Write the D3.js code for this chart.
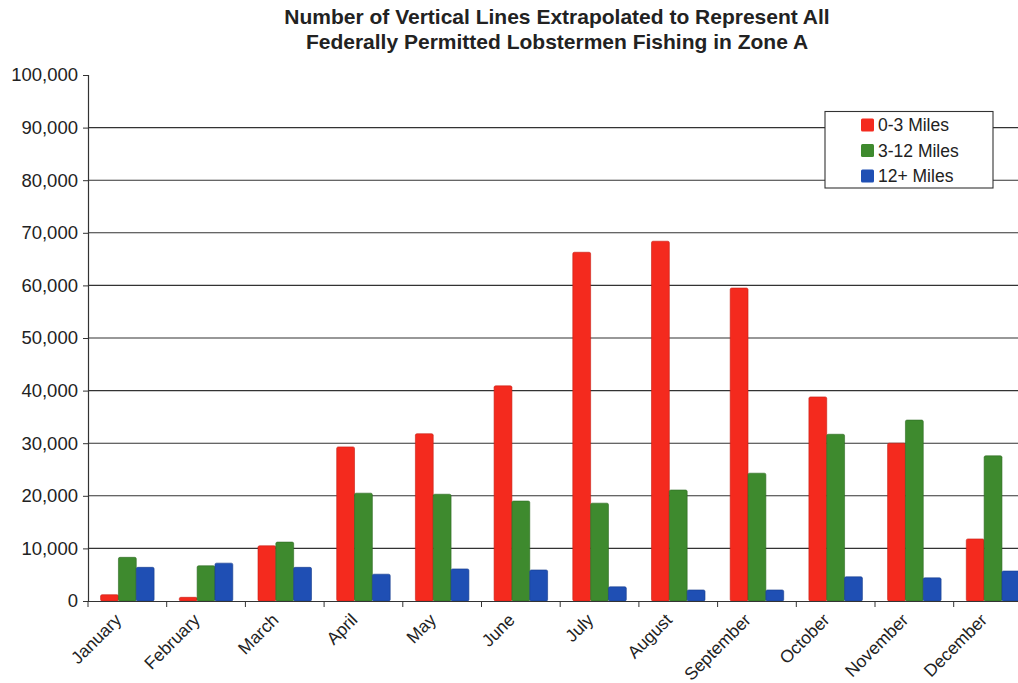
<!DOCTYPE html>
<html><head><meta charset="utf-8">
<script src="https://cdn.jsdelivr.net/npm/d3@7"></script>
<style>body{margin:0;background:#fff}svg{display:block}text{font-family:"Liberation Sans",Arial,sans-serif;fill:#222}</style>
</head><body>
<svg id="c" width="1018" height="683"></svg>
<script>
const months = ["January","February","March","April","May","June","July","August","September","October","November","December"];
const seriesNames = ["0-3 Miles","3-12 Miles","12+ Miles"];
const miles0to3 = [1200,700,10500,29300,31800,40900,66300,68400,59500,38800,30000,11800];
const miles3to12 = [8300,6700,11200,20500,20300,19000,18600,21100,24300,31700,34400,27600];
const miles12plus = [6400,7200,6400,5100,6100,5900,2700,2100,2100,4600,4400,5700];
const yTicks = [0,10000,20000,30000,40000,50000,60000,70000,80000,90000,100000];
const colors = ["#f42a1e","#3e8a2e","#1f4fb4"];
const strokes = ["#c81e14","#2d6a21","#163c8c"];
const seriesValues = [miles0to3, miles3to12, miles12plus];

(function(){
const svg = d3.select("#c");
const mLeft = 88, mTop = 75, mBottom = 601, catW = 78.7;
const x = d3.scaleBand().domain(months).range([mLeft, mLeft + catW*months.length]);
const x1 = d3.scaleBand().domain(seriesNames).range([x.bandwidth()*0.16, x.bandwidth()*0.84]);
const y = d3.scaleLinear().domain([0,100000]).range([mBottom, mTop]);

svg.append("text").attr("x",557).attr("y",24).attr("text-anchor","middle")
  .style("font-size","21px").style("font-weight","bold").text("Number of Vertical Lines Extrapolated to Represent All");
svg.append("text").attr("x",557).attr("y",49).attr("text-anchor","middle")
  .style("font-size","21px").style("font-weight","bold").text("Federally Permitted Lobstermen Fishing in Zone A");

svg.append("g").selectAll("line").data(yTicks.filter(d=>d>0 && d<100000)).join("line")
  .attr("x1",mLeft).attr("x2",1018).attr("y1",d=>y(d)).attr("y2",d=>y(d))
  .attr("stroke","#333").attr("stroke-width",1.1);

const yAxis = d3.axisLeft(y).tickValues(yTicks).tickFormat(d3.format(",")).tickSize(5).tickPadding(5);
const gy = svg.append("g").attr("transform",`translate(${mLeft},0)`).call(yAxis);
gy.select(".domain").attr("stroke","#333").attr("stroke-width",1.2);
gy.selectAll(".tick line").attr("stroke","#333");
gy.selectAll("text").style("font-size","18.5px").attr("fill","#222");

const groups = svg.append("g").selectAll("g").data(months).join("g")
  .attr("transform",d=>`translate(${x(d)},0)`);
seriesNames.forEach((s,si)=>{
  groups.append("rect")
    .attr("x",x1(s)).attr("width",x1.bandwidth())
    .attr("y",(d,i)=>y(seriesValues[si][i]))
    .attr("height",(d,i)=>mBottom - y(seriesValues[si][i]))
    .attr("fill",colors[si]).attr("stroke",strokes[si]).attr("stroke-width",0.6)
    .attr("rx",1.5);
});

const xAxis = d3.axisBottom(x).tickValues([]).tickSize(0);
const gx = svg.append("g").attr("transform",`translate(0,${mBottom})`).call(xAxis);
gx.select(".domain").attr("stroke","#333").attr("stroke-width",1.2);
svg.append("g").selectAll("line").data(months).join("line")
  .attr("x1",d=>x(d)).attr("x2",d=>x(d)).attr("y1",mBottom).attr("y2",mBottom+6)
  .attr("stroke","#333");
svg.append("g").selectAll("text").data(months).join("text")
  .attr("text-anchor","end")
  .attr("transform",d=>`translate(${x(d)+x.bandwidth()/2-5},${mBottom+20}) rotate(-45)`)
  .style("font-size","17.5px").text(d=>d);

const lg = svg.append("g");
lg.append("rect").attr("x",825).attr("y",111.5).attr("width",168).attr("height",76.5)
  .attr("fill","#fff").attr("stroke","#333").attr("stroke-width",1.1);
seriesNames.forEach((s,i)=>{
  const cy = 125 + i*25.5;
  lg.append("rect").attr("x",861).attr("y",cy-6.5).attr("width",13).attr("height",13)
    .attr("fill",colors[i]).attr("rx",1.5);
  lg.append("text").attr("x",878).attr("y",cy+6).style("font-size","17.5px").text(s);
});
})();
</script>
</body></html>
